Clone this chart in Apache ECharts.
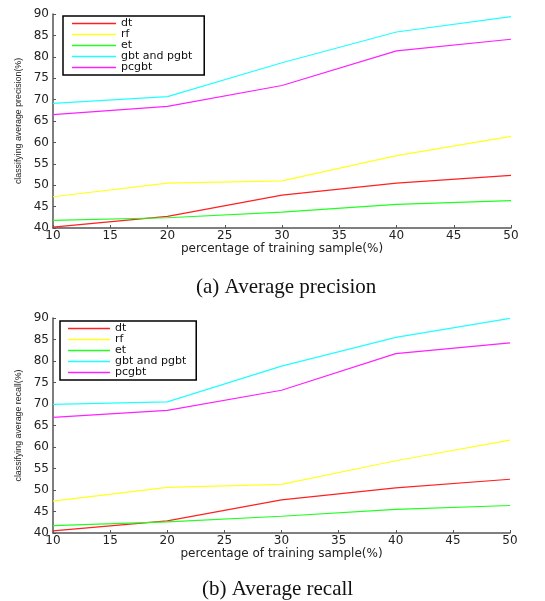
<!DOCTYPE html>
<html>
<head>
<meta charset="utf-8">
<script src="https://cdn.jsdelivr.net/npm/echarts@6/dist/echarts.min.js"></script>
<style>
  html, body { margin: 0; padding: 0; background: #fff; }
  #chart { width: 545px; height: 601px; }
</style>
</head>
<body>
<div id="chart"></div>
<script>
  // training sample percentages
  var samples = [10, 20, 30, 40, 50];
  var names = ['dt', 'rf', 'et', 'gbt and pgbt', 'pcgbt'];
  var colors = ['#ff2020', '#ffff20', '#20ff20', '#20ffff', '#ff20ff'];

  // (a) average precision
  var precDt   = [40.2, 42.7, 47.7, 50.5, 52.3];
  var precRf   = [47.3, 50.5, 51.0, 56.9, 61.4];
  var precEt   = [41.8, 42.4, 43.7, 45.5, 46.4];
  var precGbt  = [69.1, 70.7, 78.6, 85.8, 89.4];
  var precPcg  = [66.5, 68.4, 73.3, 81.4, 84.1];

  // (b) average recall
  var recDt    = [40.5, 42.8, 47.7, 50.5, 52.5];
  var recRf    = [47.4, 50.6, 51.3, 56.8, 61.6];
  var recEt    = [41.7, 42.6, 43.9, 45.5, 46.4];
  var recGbt   = [69.9, 70.5, 78.8, 85.5, 89.9];
  var recPcg   = [66.9, 68.5, 73.2, 81.7, 84.2];

  var precData = [precDt, precRf, precEt, precGbt, precPcg];
  var recData  = [recDt, recRf, recEt, recGbt, recPcg];

  var axisGray = '#555';
  var font = 'DejaVu Sans, Verdana, sans-serif';
  var plain = 'Liberation Sans, Arial, sans-serif';
  var serif = 'Liberation Serif, Times New Roman, serif';

  function pairs(vals) {
    return samples.map(function (s, i) { return [s, vals[i]]; });
  }

  function xAx(idx) {
    return {
      type: 'value', gridIndex: idx, min: 10, max: 50, interval: 5,
      name: 'percentage of training sample(%)',
      nameLocation: 'middle', nameGap: 13,
      nameTextStyle: { fontSize: 12, color: '#222', fontFamily: font },
      axisLine: { lineStyle: { color: axisGray, width: 1.5 } },
      axisTick: { inside: true, length: 3, lineStyle: { color: axisGray } },
      axisLabel: { fontSize: 12, color: '#222', margin: 2, fontFamily: font },
      splitLine: { show: false }
    };
  }

  function yAx(idx, label) {
    return {
      type: 'value', gridIndex: idx, min: 40, max: 90, interval: 5,
      name: label, nameLocation: 'middle', nameGap: 30,
      nameTextStyle: { fontSize: 8.8, color: '#222', fontFamily: plain },
      axisLine: { show: true, lineStyle: { color: axisGray, width: 1.5 } },
      axisTick: { show: true, inside: true, length: 3, lineStyle: { color: axisGray } },
      axisLabel: { fontSize: 12, color: '#222', margin: 4, fontFamily: font },
      splitLine: { show: false }
    };
  }

  function legendBox(top, left, padLeft, w, padRight) {
    return {
      orient: 'vertical', top: top, left: left,
      data: names,
      icon: 'rect',
      itemWidth: w, itemHeight: 1.3, itemGap: 0,
      padding: [2, padRight, 2, padLeft],
      borderColor: '#000', borderWidth: 1.5,
      backgroundColor: '#fff',
      textStyle: { fontSize: 11, lineHeight: 11, color: '#111', fontFamily: font }
    };
  }

  var series = [];
  [precData, recData].forEach(function (set, g) {
    set.forEach(function (vals, i) {
      series.push({
        name: names[i], type: 'line',
        xAxisIndex: g, yAxisIndex: g,
        data: pairs(vals),
        symbol: 'none', silent: true,
        lineStyle: { width: 1.2, color: colors[i] },
        itemStyle: { color: colors[i] }
      });
    });
  });

  var chart = echarts.init(document.getElementById('chart'));
  chart.setOption({
    animation: false,
    backgroundColor: '#fff',
    title: [
      { text: '(a) Average precision', left: 191, top: 272,
        textStyle: { fontFamily: serif, fontSize: 21, fontWeight: 'normal', color: '#111' } },
      { text: '(b) Average recall', left: 197, top: 574,
        textStyle: { fontFamily: serif, fontSize: 21, fontWeight: 'normal', color: '#111' } }
    ],
    grid: [
      { left: 53, right: 34, top: 14, height: 214 },
      { left: 53, right: 35, top: 318, height: 215 }
    ],
    legend: [legendBox(16, 63, 9, 44, 12), legendBox(321, 60, 8, 42, 10)],
    xAxis: [xAx(0), xAx(1)],
    yAxis: [yAx(0, 'classifying average precision(%)'), yAx(1, 'classifying average recall(%)')],
    series: series
  });
</script>
</body>
</html>
